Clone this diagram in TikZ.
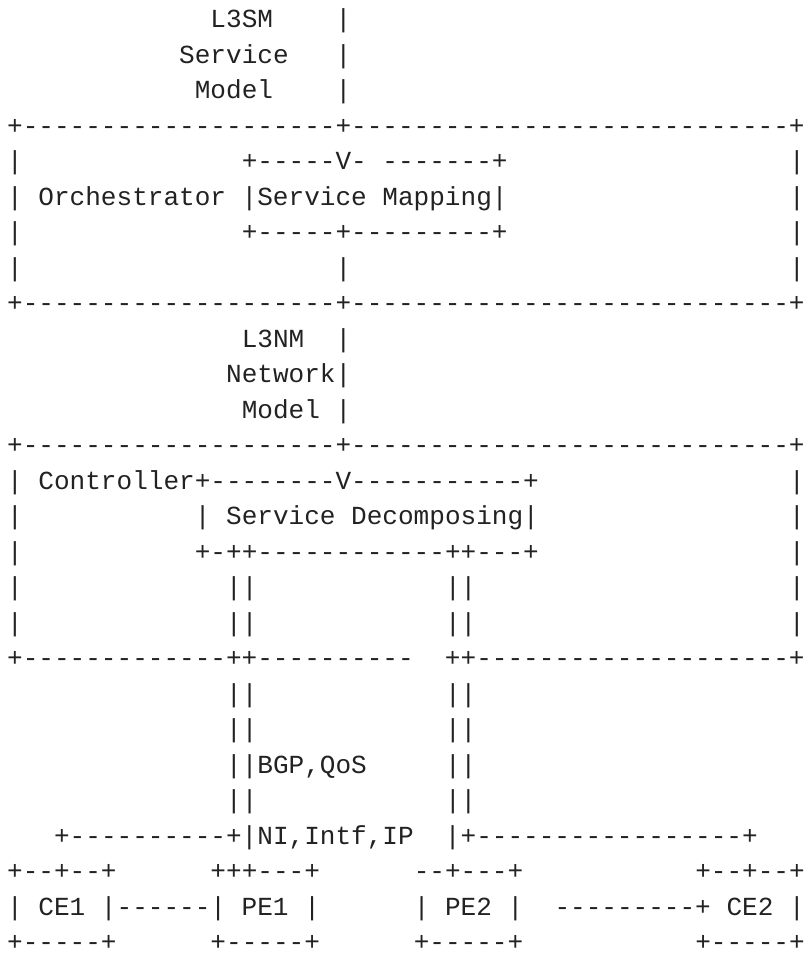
\documentclass[tikz,border=0pt]{standalone}
\usepackage{fontspec}
\newfontfamily\ascfont{Liberation Mono}
\definecolor{ink}{RGB}{34,34,34}
\newlength\cw
\settowidth{\cw}{\ascfont\fontsize{13.03pt}{15pt}\selectfont M}
\newcommand\sk[1]{\hspace*{#1\cw}}
\newcommand\rowy[1]{27.8+35.5*(#1-1)}
\frenchspacing
\begin{document}
\begin{tikzpicture}[x=0.5pt,y=-0.5pt,
  asc/.style={anchor=base west,inner sep=0pt,outer sep=0pt,
    font=\ascfont\fontsize{13.03pt}{15pt}\selectfont,text=ink}]
\useasboundingbox (0,0) rectangle (804,957);
\node[asc] (l1)  at (7.18,{\rowy{1}})  {\sk{13}L3SM\sk{4}|};
\node[asc] (l2)  at (7.18,{\rowy{2}})  {\sk{11}Service\sk{3}|};
\node[asc] (l3)  at (7.18,{\rowy{3}})  {\sk{12}Model\sk{4}|};
\node[asc] (l4)  at (7.18,{\rowy{4}})  {+--------------------+----------------------------+};
\node[asc] (l5)  at (7.18,{\rowy{5}})  {|\sk{14}+-----V-\sk{1}-------+\sk{18}|};
\node[asc] (l6)  at (7.18,{\rowy{6}})  {|\sk{1}Orchestrator\sk{1}|Service\sk{1}Mapping|\sk{18}|};
\node[asc] (l7)  at (7.18,{\rowy{7}})  {|\sk{14}+-----+---------+\sk{18}|};
\node[asc] (l8)  at (7.18,{\rowy{8}})  {|\sk{20}|\sk{28}|};
\node[asc] (l9)  at (7.18,{\rowy{9}})  {+--------------------+----------------------------+};
\node[asc] (l10) at (7.18,{\rowy{10}}) {\sk{15}L3NM\sk{2}|};
\node[asc] (l11) at (7.18,{\rowy{11}}) {\sk{14}Network|};
\node[asc] (l12) at (7.18,{\rowy{12}}) {\sk{15}Model\sk{1}|};
\node[asc] (l13) at (7.18,{\rowy{13}}) {+--------------------+----------------------------+};
\node[asc] (l14) at (7.18,{\rowy{14}}) {|\sk{1}Controller+--------V-----------+\sk{16}|};
\node[asc] (l15) at (7.18,{\rowy{15}}) {|\sk{11}|\sk{1}Service\sk{1}Decomposing|\sk{16}|};
\node[asc] (l16) at (7.18,{\rowy{16}}) {|\sk{11}+-++------------++---+\sk{16}|};
\node[asc] (l17) at (7.18,{\rowy{17}}) {|\sk{13}||\sk{12}||\sk{20}|};
\node[asc] (l18) at (7.18,{\rowy{18}}) {|\sk{13}||\sk{12}||\sk{20}|};
\node[asc] (l19) at (7.18,{\rowy{19}}) {+-------------++----------\sk{2}++--------------------+};
\node[asc] (l20) at (7.18,{\rowy{20}}) {\sk{14}||\sk{12}||};
\node[asc] (l21) at (7.18,{\rowy{21}}) {\sk{14}||\sk{12}||};
\node[asc] (l22) at (7.18,{\rowy{22}}) {\sk{14}||BGP,QoS\sk{5}||};
\node[asc] (l23) at (7.18,{\rowy{23}}) {\sk{14}||\sk{12}||};
\node[asc] (l24) at (7.18,{\rowy{24}}) {\sk{3}+----------+|NI,Intf,IP\sk{2}|+-----------------+};
\node[asc] (l25) at (7.18,{\rowy{25}}) {+--+--+\sk{6}+++---+\sk{6}--+---+\sk{11}+--+--+};
\node[asc] (l26) at (7.18,{\rowy{26}}) {|\sk{1}CE1\sk{1}|------|\sk{1}PE1\sk{1}|\sk{6}|\sk{1}PE2\sk{1}|\sk{2}---------+\sk{1}CE2\sk{1}|};
\node[asc] (l27) at (7.18,{\rowy{27}}) {+-----+\sk{6}+-----+\sk{6}+-----+\sk{11}+-----+};
\end{tikzpicture}
\end{document}
